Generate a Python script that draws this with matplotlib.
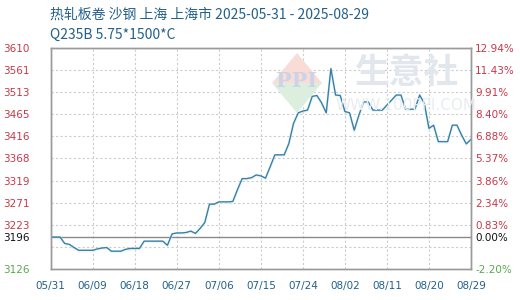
import matplotlib
matplotlib.use("Agg")
import matplotlib.pyplot as plt
import matplotlib.dates as mdates
from matplotlib.patches import Polygon
import pandas as pd
import numpy as np

plt.rcParams['font.family'] = ['Noto Sans CJK SC', 'DejaVu Sans']

title = "热轧板卷 沙钢 上海 上海市 2025-05-31 - 2025-08-29"
subtitle = "Q235B 5.75*1500*C"

start_date = "2025-05-31"
end_date = "2025-08-29"
prices = [
    3196, 3196, 3196, 3182, 3180, 3173, 3167, 3167, 3167, 3167,
    3170, 3172, 3173, 3165, 3165, 3165, 3169, 3171, 3171, 3171,
    3187, 3187, 3187, 3187, 3187, 3178, 3203, 3205, 3205, 3206,
    3209, 3204, 3215, 3228, 3268, 3268, 3273, 3273, 3273, 3274,
    3300, 3324, 3324, 3326, 3332, 3330, 3325, 3350, 3376, 3376,
    3376, 3401, 3445, 3468, 3472, 3474, 3504, 3506, 3490, 3468,
    3565, 3507, 3506, 3471, 3468, 3430, 3463, 3492, 3492, 3474,
    3474, 3474, 3485, 3496, 3507, 3507, 3476, 3476, 3476, 3507,
    3489, 3434, 3441, 3405, 3405, 3405, 3441, 3441, 3419, 3400,
    3410,
]

base_price = 3196
y_min, y_max = 3126, 3610
grid_values = [3610, 3561.6, 3513.2, 3464.8, 3416.4, 3368, 3319.6, 3271.2, 3222.8, 3174.4]
left_tick_values = [3610, 3561.6, 3513.2, 3464.8, 3416.4, 3368, 3319.6, 3271.2, 3222.8, 3196, 3126]
left_tick_labels = ["3610", "3561", "3513", "3465", "3416", "3368", "3319", "3271", "3223", "3196", "3126"]
right_tick_labels = ["12.94%", "11.43%", "9.91%", "8.40%", "6.88%", "5.37%", "3.86%", "2.34%", "0.83%", "0.00%", "-2.20%"]
x_tick_labels = ["05/31", "06/09", "06/18", "06/27", "07/06", "07/15", "07/24", "08/02", "08/11", "08/20", "08/29"]

dates = pd.date_range(start_date, end_date, freq="D")

RED = "#c8374a"
GREEN = "#5aa84c"
BLACK = "#111111"
BLUE_TXT = "#23608a"
LINE = "#3b7fa6"

fig = plt.figure(figsize=(5.2, 3.0), dpi=100)
ax = fig.add_axes([50.7 / 520, 1 - 269 / 300, (471 - 50.7) / 520, (269 - 48) / 300])

# watermark
fig.text(407 / 520, 1 - 72 / 300, "生意社", fontsize=25, color="#e2e6ed",
         ha="center", va="center", fontweight="bold", zorder=0)
fig.text(406 / 520, 1 - 106 / 300, "WWW.100PPI.COM", fontsize=11, color="#e9ecf0",
         ha="center", va="center", family="DejaVu Sans", zorder=0)
cx, cy = 297 / 520, 1 - 83 / 300
dx, dy = 25 / 520, 30 / 300
fig.patches.append(Polygon([(cx - dx, cy), (cx, cy + dy), (cx + dx, cy)], closed=True,
                           transform=fig.transFigure, facecolor="#fadcd7", edgecolor="none", zorder=0))
fig.patches.append(Polygon([(cx - dx, cy), (cx, cy - dy), (cx + dx, cy)], closed=True,
                           transform=fig.transFigure, facecolor="#dcefdf", edgecolor="none", zorder=0))
fig.text(cx, cy + 0.005, "PPI", fontsize=15, color="#ccd3e6", ha="center", va="center",
         family="DejaVu Serif", fontweight="bold", zorder=0)

ax.set_facecolor("none")
for gv in grid_values:
    ax.axhline(gv, color="#cccccc", lw=0.8, ls=(0, (2, 2)), zorder=1)
tick_dates = dates[::9]
for td in tick_dates:
    ax.axvline(td, color="#cccccc", lw=0.8, ls=(0, (2, 2)), zorder=1)
ax.axhline(base_price, color="#8a8a8a", lw=1.0, zorder=2)

ax.plot(dates, np.array(prices) - 1.5, color="#d2f0f6", lw=2.0, alpha=0.5, zorder=3)
ax.plot(dates, prices, color=LINE, lw=1.0, zorder=4)

ax.set_xlim(dates[0], dates[-1])
ax.set_ylim(y_min, y_max)

ax.set_xticks(tick_dates)
ax.set_xticklabels(x_tick_labels, family="DejaVu Sans", fontsize=7.5, color=BLUE_TXT)
ax.set_yticks(left_tick_values)
ax.set_yticklabels(left_tick_labels, family="DejaVu Sans", fontsize=7.5)
ax.tick_params(axis="y", length=0, pad=15)
ax.tick_params(axis="x", length=0, pad=9)

ax2 = ax.twinx()
ax2.set_ylim(y_min, y_max)
ax2.set_yticks(left_tick_values)
ax2.set_yticklabels(right_tick_labels, family="DejaVu Sans", fontsize=7.5)
ax2.tick_params(axis="y", length=0, pad=3)

for axis_ in (ax, ax2):
    for sp in axis_.spines.values():
        sp.set_color("#9a9a9a")
        sp.set_linewidth(1.0)

def colorize(labels, vals):
    for lab, v in zip(labels, vals):
        if v > base_price + 0.5:
            lab.set_color(RED)
        elif v < base_price - 0.5:
            lab.set_color(GREEN)
        else:
            lab.set_color(BLACK)

colorize(ax.get_yticklabels(), left_tick_values)
colorize(ax2.get_yticklabels(), left_tick_values)

fig.text(50 / 520, 1 - 15 / 300, title, fontsize=10, color=BLUE_TXT, ha="left", va="center")
fig.text(50 / 520, 1 - 35 / 300, subtitle, fontsize=10, color=BLUE_TXT, ha="left", va="center")

fig.savefig("out.png", dpi=100)
